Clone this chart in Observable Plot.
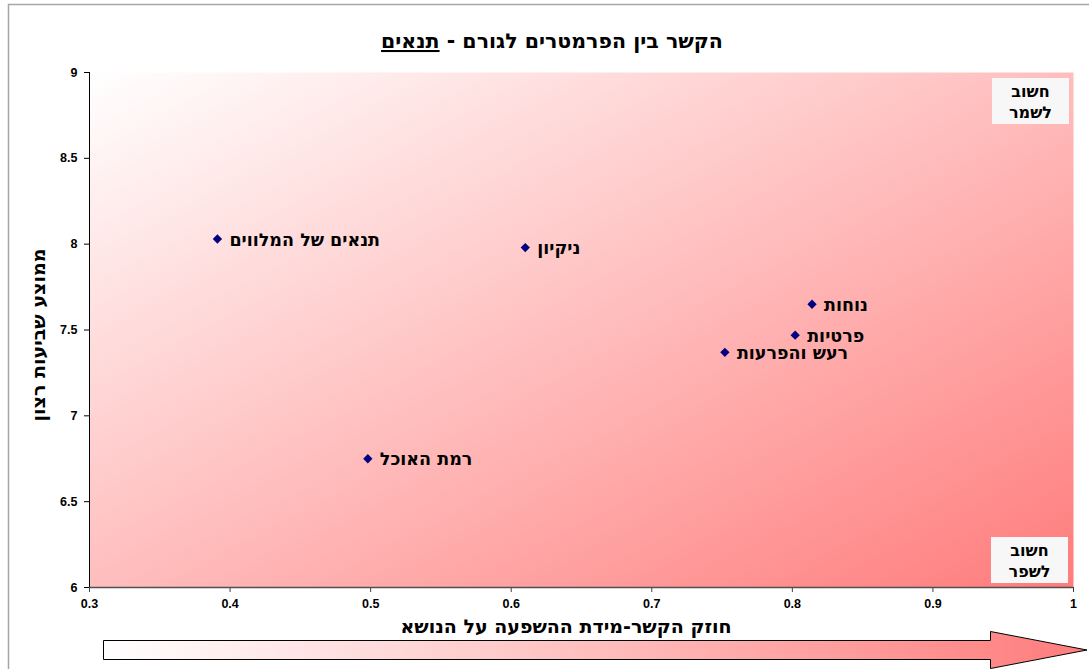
<!DOCTYPE html>
<html lang="he">
<head>
<meta charset="utf-8">
<script src="https://cdn.jsdelivr.net/npm/d3@7"></script>
<script src="https://cdn.jsdelivr.net/npm/@observablehq/plot@0.6"></script>
<style>
  html, body { margin: 0; padding: 0; background: #ffffff; }
  #chart svg { display: block; }
</style>
</head>
<body>
<div id="chart"></div>
<script>
// ---- data ----
const factors = ["תנאים של המלווים", "ניקיון", "נוחות", "פרטיות", "רעש והפרעות", "רמת האוכל"];
const strength = [0.391, 0.610, 0.814, 0.802, 0.752, 0.498];
const satisfaction = [8.03, 7.98, 7.65, 7.47, 7.37, 6.75];
const xTicks = [0.3, 0.4, 0.5, 0.6, 0.7, 0.8, 0.9, 1];
const yTicks = [6, 6.5, 7, 7.5, 8, 8.5, 9];
const titleMain = "הקשר בין הפרמטרים לגורם - ";
const titleFactor = "תנאים";
const xTitle = "חוזק הקשר-מידת ההשפעה על הנושא";
const yTitle = "ממוצע שביעות רצון";
const cornerTop = ["חשוב", "לשמר"];
const cornerBottom = ["חשוב", "לשפר"];

const rows = factors.map((f, i) => ({factor: f, x: strength[i], y: satisfaction[i]}));

const W = 1089, H = 669;
const mT = 72, mB = 82, mL = 89, mR = 16;
const font = "'Liberation Sans', Arial, sans-serif";
const hebFont = "'DejaVu Sans', 'Liberation Sans', Arial, sans-serif";

const chart = Plot.plot({
  width: W, height: H,
  marginTop: mT, marginBottom: mB, marginLeft: mL, marginRight: mR,
  style: {fontFamily: font, fontWeight: "bold", fontSize: "12px", background: "transparent", color: "black", overflow: "visible"},
  x: {domain: [0.3, 1], label: null},
  y: {domain: [6, 9], label: null},
  marks: [
    Plot.frame({fill: "url(#bgGrad)", stroke: null}),
    Plot.axisX({ticks: xTicks, tickFormat: d => String(d), tickSize: 5, tickPadding: 7, label: null, stroke: "#404040", fontWeight: "bold", fontSize: 12.5}),
    Plot.axisY({ticks: yTicks, tickFormat: d => String(d), tickSize: 5, tickPadding: 7, label: null, stroke: "#000", fontWeight: "bold", fontSize: 12.5}),
    Plot.ruleY([6], {stroke: "#505050", strokeWidth: 1.5}),
    Plot.ruleX([0.3], {stroke: "#000", strokeWidth: 1}),
    Plot.dot(rows, {x: "x", y: "y", symbol: "diamond2", r: 4.2, fill: "#000080", stroke: null}),
    Plot.text(rows, {x: "x", y: "y", text: "factor", dx: 12, dy: 1, textAnchor: "start", fontSize: 17.5, fontWeight: "bold", fontFamily: hebFont, fill: "#000"})
  ]
});

document.getElementById("chart").appendChild(chart);

const svg = d3.select(chart);

// gradients
const defs = svg.insert("defs", ":first-child");
const g1 = defs.append("linearGradient").attr("id", "bgGrad")
  .attr("x1", 0).attr("y1", 0).attr("x2", 1).attr("y2", 1);
g1.append("stop").attr("offset", "0%").attr("stop-color", "#ffffff");
g1.append("stop").attr("offset", "100%").attr("stop-color", "#ff7c7c");
const g2 = defs.append("linearGradient").attr("id", "arrowGrad")
  .attr("x1", 0).attr("y1", 0).attr("x2", 1).attr("y2", 0);
g2.append("stop").attr("offset", "0%").attr("stop-color", "#ffffff");
g2.append("stop").attr("offset", "100%").attr("stop-color", "#ff7c7c");

// outer chart border
svg.insert("rect", "defs + *")
  .attr("x", 8.5).attr("y", 4.5).attr("width", W + 20).attr("height", H + 20)
  .attr("fill", "none").attr("stroke", "#a6a6a6").attr("stroke-width", 1.5);

// title
const t = svg.append("text")
  .attr("x", 552).attr("y", 48)
  .attr("direction", "rtl")
  .attr("text-anchor", "middle")
  .attr("font-family", hebFont)
  .attr("font-size", 20.5).attr("font-weight", "bold").attr("fill", "#000");
t.append("tspan").text(titleMain);
t.append("tspan").attr("text-decoration", "underline").text(titleFactor);

// axis titles
svg.append("text")
  .attr("x", 566).attr("y", 633)
  .attr("direction", "rtl").attr("text-anchor", "middle")
  .attr("font-family", hebFont)
  .attr("font-size", 19).attr("font-weight", "bold").attr("fill", "#000")
  .text(xTitle);
svg.append("text")
  .attr("transform", "translate(45,335) rotate(-90)")
  .attr("direction", "rtl").attr("text-anchor", "middle")
  .attr("font-family", hebFont)
  .attr("font-size", 19).attr("font-weight", "bold").attr("fill", "#000")
  .text(yTitle);

// corner boxes
const frameRight = W - mR, frameTop = mT, frameBottom = H - mB;
function corner(lines, bx, by) {
  svg.append("rect").attr("x", bx).attr("y", by).attr("width", 77).attr("height", 46)
    .attr("fill", "#f7f7f7");
  lines.forEach((s, i) => {
    svg.append("text").attr("x", bx + 38.5).attr("y", by + 19 + i * 21)
      .attr("direction", "rtl").attr("text-anchor", "middle")
      .attr("font-family", hebFont)
      .attr("font-size", 16).attr("font-weight", "bold").attr("fill", "#000")
      .text(s);
  });
}
corner(cornerTop, frameRight - 81, frameTop + 6);
corner(cornerBottom, frameRight - 82, frameBottom - 50);

// bottom arrow
svg.append("path")
  .attr("d", "M103.5,640.5 H990.5 V631.5 L1087,650 L990.5,668.5 V659.5 H103.5 Z")
  .attr("fill", "url(#arrowGrad)").attr("stroke", "#000").attr("stroke-width", 1);
</script>
</body>
</html>
